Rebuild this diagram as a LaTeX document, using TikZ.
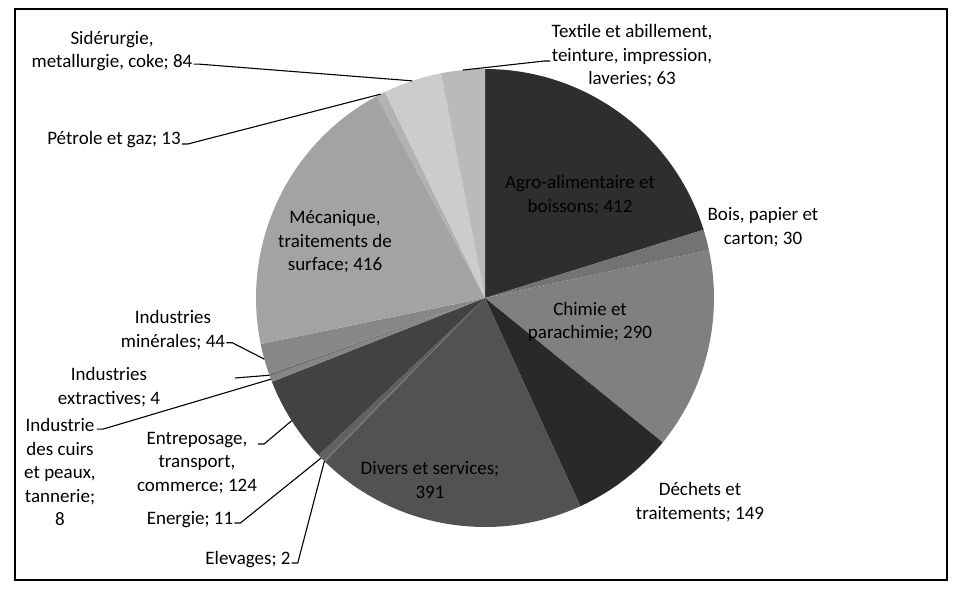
\documentclass[tikz,border=0pt]{standalone}
\usepackage{fontspec}
\setmainfont{Carlito}
\begin{document}
\begin{tikzpicture}[x=1pt,y=1pt,
    lbl/.style={align=center,inner sep=1pt,font=\fontsize{19}{23.5}\selectfont},
    leader/.style={line width=1.1pt}]
  % picture is 955 x 589, one unit = one pixel
  \useasboundingbox (0,0) rectangle (955,589);
  \draw[line width=1.6pt] (15,9) rectangle (947,580);
  % pie: centre O, r = 229, total = 2041, starts at 12 o'clock, clockwise
  % angle of a value v: 90 - 360*v/2041
  \coordinate (O) at (485,291);
  \fill[black!82] (O) -- +(90:229) arc[start angle=90,end angle=17.33,radius=229] -- cycle;
  \fill[black!55] (O) -- +(17.33:229) arc[start angle=17.33,end angle=12.04,radius=229] -- cycle;
  \fill[black!50] (O) -- +(12.04:229) arc[start angle=12.04,end angle=-39.11,radius=229] -- cycle;
  \fill[black!84] (O) -- +(-39.11:229) arc[start angle=-39.11,end angle=-65.39,radius=229] -- cycle;
  \fill[black!68] (O) -- +(-65.39:229) arc[start angle=-65.39,end angle=-134.36,radius=229] -- cycle;
  \fill[black!55] (O) -- +(-134.36:229) arc[start angle=-134.36,end angle=-134.71,radius=229] -- cycle;
  \fill[black!62] (O) -- +(-134.71:229) arc[start angle=-134.71,end angle=-136.65,radius=229] -- cycle;
  \fill[black!74] (O) -- +(-136.65:229) arc[start angle=-136.65,end angle=-158.53,radius=229] -- cycle;
  \fill[black!48] (O) -- +(-158.53:229) arc[start angle=-158.53,end angle=-159.94,radius=229] -- cycle;
  \fill[black!55] (O) -- +(-159.94:229) arc[start angle=-159.94,end angle=-160.64,radius=229] -- cycle;
  \fill[black!47] (O) -- +(-160.64:229) arc[start angle=-160.64,end angle=-168.40,radius=229] -- cycle;
  \fill[black!36] (O) -- +(-168.40:229) arc[start angle=-168.40,end angle=-241.78,radius=229] -- cycle;
  \fill[black!30] (O) -- +(-241.78:229) arc[start angle=-241.78,end angle=-244.07,radius=229] -- cycle;
  \fill[black!20] (O) -- +(-244.07:229) arc[start angle=-244.07,end angle=-258.89,radius=229] -- cycle;
  \fill[black!27] (O) -- +(-258.89:229) arc[start angle=-258.89,end angle=-270,radius=229] -- cycle;
  % middles of the small slices, on the rim
  \path (O) ++(95.56:229) coordinate (ptex);
  \path (O) ++(108.52:229) coordinate (psid);
  \path (O) ++(117.08:229) coordinate (ppet);
  \path (O) ++(-164.52:229) coordinate (pmin);
  \path (O) ++(-160.29:229) coordinate (pext);
  \path (O) ++(-159.23:229) coordinate (pcuir);
  \path (O) ++(-147.59:229) coordinate (pent);
  \path (O) ++(-135.68:229) coordinate (pene);
  \path (O) ++(-134.54:229) coordinate (pele);
  % labels in the slices
  \node[lbl] (mec) at (335,347) {Mécanique,\\traitements de\\surface; 416};
  \node[lbl] (agro) at (580,394) {Agro-alimentaire et\\boissons; 412};
  \node[lbl] (chim) at (590,267) {Chimie et\\parachimie; 290};
  \node[lbl] (div) at (430,109) {Divers et services;\\391};
  % labels outside
  \node[lbl] (sid) at (112,538) {Sidérurgie,\\metallurgie, coke; 84};
  \node[lbl] (pet) at (114,449) {Pétrole et gaz; 13};
  \node[lbl] (tex) at (632,533) {Textile et abillement,\\teinture, impression,\\laveries; 63};
  \node[lbl] (bois) at (763,362) {Bois, papier et\\carton; 30};
  \node[lbl] (dech) at (700,87) {Déchets et\\traitements; 149};
  \node[lbl] (min) at (173,259) {Industries\\minérales; 44};
  \node[lbl] (ext) at (109,202) {Industries\\extractives; 4};
  \node[lbl] (cuir) at (60,117) {Industrie\\des cuirs\\et peaux,\\tannerie;\\8};
  \node[lbl] (ent) at (197,126) {Entreposage,\\transport,\\commerce; 124};
  \node[lbl] (ene) at (190,69) {Energie; 11};
  \node[lbl] (ele) at (248,29) {Elevages; 2};
  \coordinate (extstub) at (235,211);
  % leader lines
  \draw[leader] ([yshift=8pt]sid.south east) -- ++(6,0) -- (psid);
  \draw[leader] ([yshift=-4pt]pet.east) -- ++(6,0) -- (ppet);
  \draw[leader] ([yshift=-5pt]tex.west) -- ++(-6,0) -- (ptex);
  \draw[leader] ([yshift=8pt]min.south east) -- ++(6,0) -- (pmin);
  \draw[leader] (extstub) -- (pext);
  \draw[leader] ([yshift=-12pt]cuir.north east) -- ++(6,0) -- (pcuir);
  \draw[leader] ([yshift=-13pt]ent.north east) -- ++(6,0) -- (pent);
  \draw[leader] ([yshift=-3pt]ene.east) -- ++(6,0) -- (pene);
  \draw[leader] ([yshift=-3pt]ele.east) -- ++(6,0) -- (pele);
\end{tikzpicture}
\end{document}
